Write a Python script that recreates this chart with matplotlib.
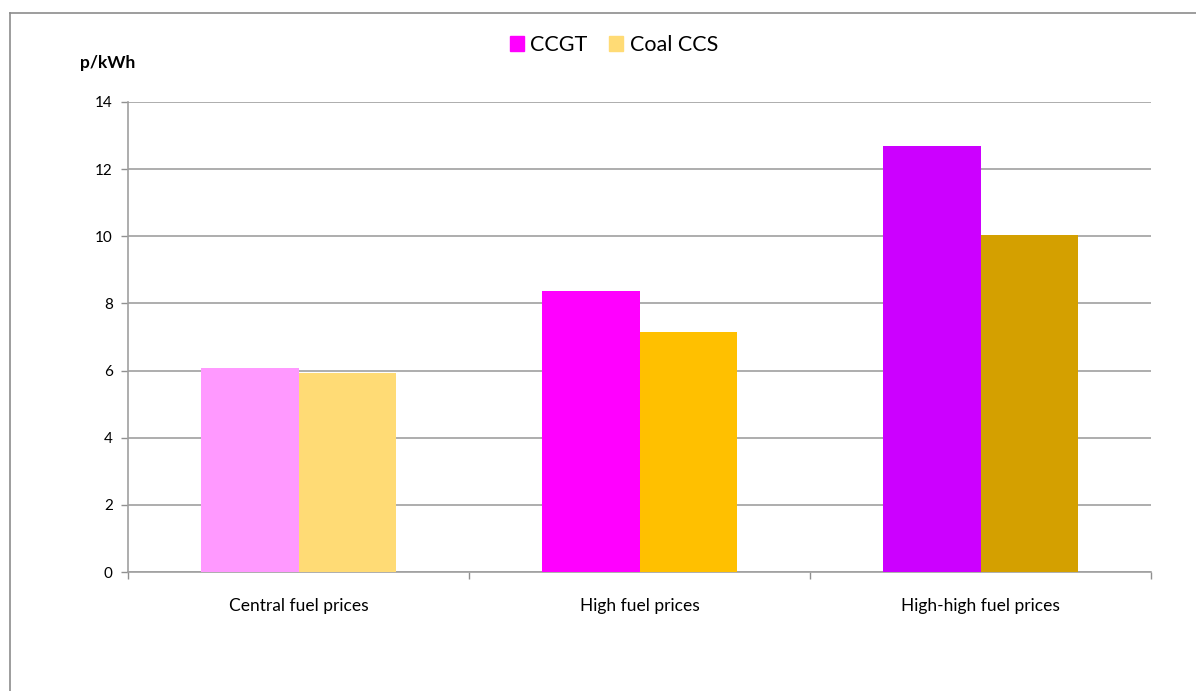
import matplotlib
matplotlib.use("Agg")
import matplotlib.pyplot as plt
from matplotlib.lines import Line2D
from matplotlib.patches import Patch
import numpy as np

# data
scenarios = ["Central fuel prices", "High fuel prices", "High-high fuel prices"]
ccgt = [6.08, 8.37, 12.69]
coal_ccs = [5.93, 7.15, 10.04]
ccgt_colors = ["#FF99FF", "#FF00FF", "#CC00FF"]
coal_colors = ["#FFDB75", "#FFC000", "#D4A000"]
y_ticks = [0, 2, 4, 6, 8, 10, 12, 14]

plt.rcParams["font.family"] = ["Lato", "DejaVu Sans"]

fig = plt.figure(figsize=(11.96, 6.91), dpi=100)
ax = fig.add_axes([0.107, 0.1722, 0.8555, 0.6802])

x = np.arange(len(scenarios))
width = 0.285
ax.bar(x - width / 2, ccgt, width, color=ccgt_colors, zorder=3)
ax.bar(x + width / 2, coal_ccs, width, color=coal_colors, zorder=3)

ax.set_xlim(-0.5, len(scenarios) - 0.5)
ax.set_ylim(0, 14)
ax.set_yticks(y_ticks)
ax.set_yticklabels([str(v) for v in y_ticks], fontsize=11)
ax.yaxis.grid(True, color="#A0A0A0", linewidth=1.2, zorder=0)
ax.set_axisbelow(True)

# category labels centred, tick marks at category boundaries
ax.set_xticks(x)
ax.set_xticklabels(scenarios, fontsize=12.5)
ax.tick_params(axis="x", length=0, pad=19)
ax.set_xticks(np.arange(-0.5, len(scenarios)), minor=True)
ax.tick_params(axis="x", which="minor", length=5, color="#909090", width=1)
ax.tick_params(axis="y", length=5, color="#909090", width=1, pad=6)

for side in ["top", "right"]:
    ax.spines[side].set_visible(False)
for side in ["left", "bottom"]:
    ax.spines[side].set_color("#A0A0A0")
    ax.spines[side].set_linewidth(1.2)

fig.text(80 / 1196, 1 - 63 / 691, "p/kWh", fontsize=12.5, fontweight="bold",
         va="center", ha="left")

handles = [Patch(color=ccgt_colors[1], label="CCGT"),
           Patch(color=coal_colors[0], label="Coal CCS")]
fig.legend(handles=handles, loc="center", bbox_to_anchor=(614 / 1196, 1 - 45 / 691),
           ncol=2, frameon=False, fontsize=15.5, handlelength=0.65, handleheight=0.65,
           handletextpad=0.3, columnspacing=1.0)

# outer chart frame (only left and top edges visible)
fig.add_artist(Line2D([10 / 1196, 10 / 1196], [0, 1 - 13 / 691],
                      transform=fig.transFigure, color="#8C8C8C", linewidth=1.2))
fig.add_artist(Line2D([10 / 1196, 1], [1 - 13 / 691, 1 - 13 / 691],
                      transform=fig.transFigure, color="#8C8C8C", linewidth=1.2))

fig.savefig("out.png", dpi=100)
